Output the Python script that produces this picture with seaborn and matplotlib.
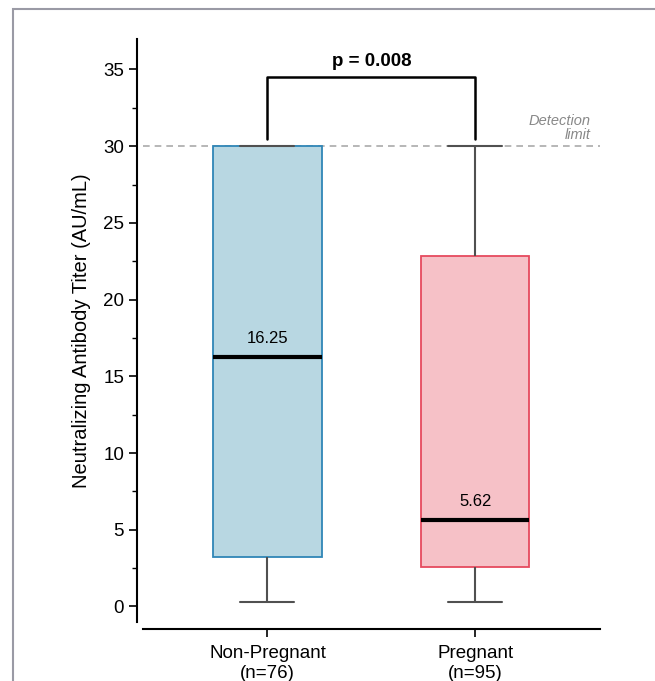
import numpy as np
import pandas as pd
import matplotlib
matplotlib.use('Agg')
import matplotlib.pyplot as plt
from matplotlib.patches import Rectangle
from matplotlib.ticker import MultipleLocator
import seaborn as sns

# five-number summaries (min, Q1, median, Q3, max)
groups = ['Non-Pregnant', 'Pregnant']
group_sizes = [76, 95]
non_pregnant = [0.3, 3.25, 16.25, 30.0, 30.0]
pregnant = [0.28, 2.55, 5.62, 22.85, 30.0]
medians = [16.25, 5.62]
detection_limit = 30
p_value = 0.008

fill_colors = ['#b8d7e2', '#f6c1c7']
edge_colors = ['#2f86b6', '#e64a5e']

sns.set_style('ticks')
plt.rcParams['font.family'] = ['Liberation Sans', 'DejaVu Sans']
plt.rcParams['text.color'] = 'black'
plt.rcParams['axes.labelcolor'] = 'black'
plt.rcParams['xtick.color'] = 'black'
plt.rcParams['ytick.color'] = 'black'

df = pd.DataFrame({
    'group': [groups[0]] * len(non_pregnant) + [groups[1]] * len(pregnant),
    'titer': non_pregnant + pregnant,
})

fig = plt.figure(figsize=(6.55, 6.81), dpi=100)
ax = fig.add_axes([0.218, 0.087, 0.698, 0.856])

sns.boxplot(data=df, x='group', y='titer', hue='group', palette=fill_colors,
            order=groups, width=0.52, showfliers=False, legend=False, ax=ax,
            boxprops={'linewidth': 1.3},
            whiskerprops={'color': '#505050', 'linewidth': 1.5},
            capprops={'color': '#505050', 'linewidth': 1.5},
            medianprops={'color': 'black', 'linewidth': 3})

# box edges per group
for patch, fc, ec in zip(ax.patches, fill_colors, edge_colors):
    patch.set_facecolor(fc)
    patch.set_edgecolor(ec)

# detection limit
ax.axhline(detection_limit, color='#aaaaaa', linestyle=(0, (4, 3)), linewidth=1.2, zorder=0)
ax.text(1.555, detection_limit + 0.25, 'Detection\nlimit', ha='right', va='bottom',
        fontsize=10.5, style='italic', color='#888888', linespacing=1.0)

# median labels
for i, m in enumerate(medians):
    ax.text(i, m + 0.75, f'{m:.2f}', ha='center', va='bottom', fontsize=12)

# significance bracket
y_low, y_top = 30.45, 34.5
ax.plot([0, 0, 1, 1], [y_low, y_top, y_top, y_low], color='black', linewidth=1.8)
ax.text(0.5, y_top + 0.45, f'p = {p_value:.3f}', ha='center', va='bottom',
        fontsize=13.5, fontweight='bold')

ax.set_xlim(-0.6, 1.6)
ax.set_ylim(-1, 37)
ax.yaxis.set_major_locator(MultipleLocator(5))
ax.yaxis.set_minor_locator(MultipleLocator(2.5))
ax.set_xticks([0, 1])
ax.set_xticklabels([f'{g}\n(n={n})' for g, n in zip(groups, group_sizes)])
ax.tick_params(axis='y', labelsize=13.5, length=6, width=1.2)
ax.tick_params(axis='y', which='minor', length=3.5, width=1.0)
ax.tick_params(axis='x', labelsize=13.5, length=6, width=1.2, pad=6)
ax.set_xlabel('')
ax.set_ylabel('Neutralizing Antibody Titer (AU/mL)', fontsize=14.5, labelpad=9)

sns.despine(ax=ax)
ax.spines['left'].set_position(('outward', 4))
ax.spines['bottom'].set_position(('outward', 5))
for s in ['left', 'bottom']:
    ax.spines[s].set_linewidth(1.5)
    ax.spines[s].set_color('black')

# grey frame around the figure (only top/left visible in the crop)
frame = Rectangle((13 / 655, -0.2), 1.5, 1.2 - 9 / 681, transform=fig.transFigure,
                  fill=False, edgecolor='#9a9aa5', linewidth=1.5, clip_on=False)
fig.patches.append(frame)

fig.savefig('out.png', dpi=100)
